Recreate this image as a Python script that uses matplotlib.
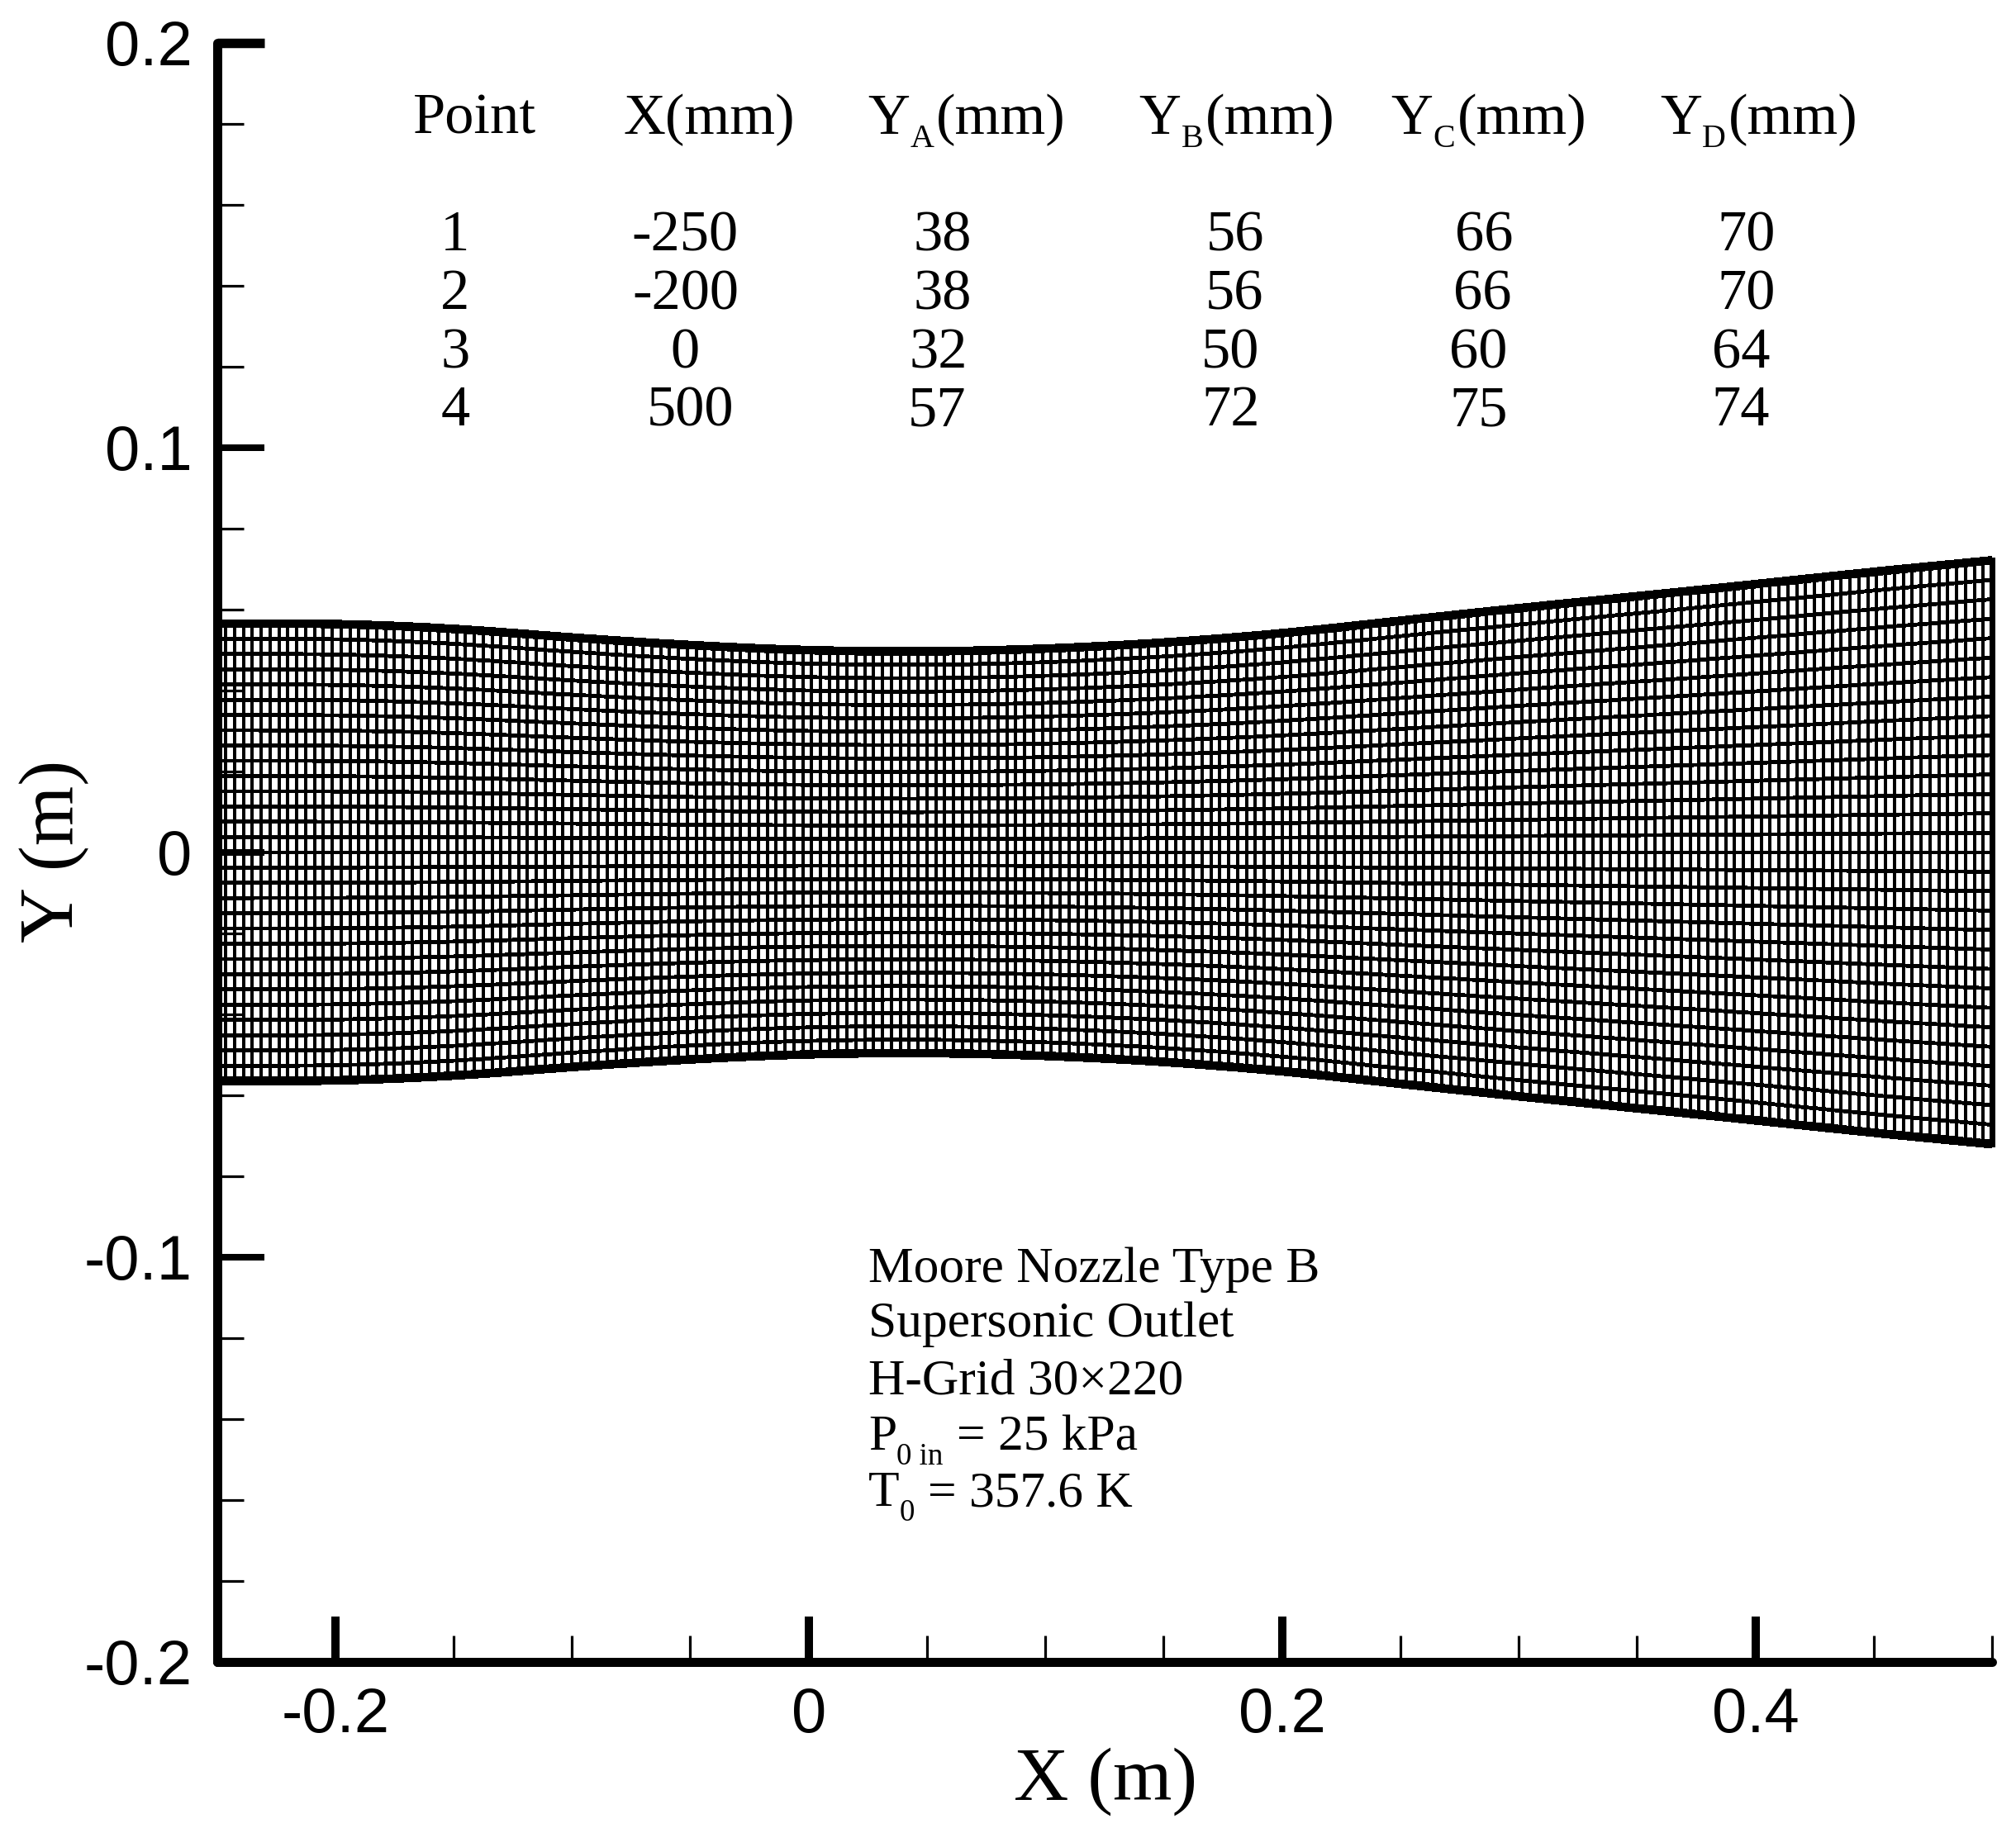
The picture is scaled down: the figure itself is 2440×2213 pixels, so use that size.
import numpy as np
import matplotlib
matplotlib.use("Agg")
import matplotlib.pyplot as plt
from matplotlib.transforms import IdentityTransform
from matplotlib.ticker import FixedLocator

W, H = 2440, 2213
S = 2440 / 1568

# wall contour (m)
wall_x = [-0.25, -0.2, -0.15, -0.1, -0.05, 0.0, 0.05, 0.1, 0.15, 0.2, 0.25, 0.3, 0.35, 0.4, 0.45, 0.5]
wall_y = [0.0565, 0.0565, 0.0553, 0.0530, 0.0511, 0.0498, 0.0495, 0.0502, 0.0517, 0.0540,
          0.0572, 0.0603, 0.0632, 0.0662, 0.0693, 0.0721]
n_columns = 200
n_rows = 30

x_ticks = [-0.2, 0, 0.2, 0.4]
x_labels = ["-0.2", "0", "0.2", "0.4"]
y_ticks = [-0.2, -0.1, 0, 0.1, 0.2]
y_labels = ["-0.2", "-0.1", "0", "0.1", "0.2"]
x_minor = [-0.25, -0.15, -0.1, -0.05, 0.05, 0.1, 0.15, 0.25, 0.3, 0.35, 0.45, 0.5]
y_minor = [-0.18, -0.16, -0.14, -0.12, -0.08, -0.06, -0.04, -0.02,
           0.02, 0.04, 0.06, 0.08, 0.12, 0.14, 0.16, 0.18]

col_point = ["1", "2", "3", "4"]
col_x = ["-250", "-200", "0", "500"]
col_a = ["38", "38", "32", "57"]
col_b = ["56", "56", "50", "72"]
col_c = ["66", "66", "60", "75"]
col_d = ["70", "70", "64", "74"]

pt = 72 / 100  # points per pixel at dpi 100
SERIF = "Liberation Serif"
SANS = "Liberation Sans"

fig = plt.figure(figsize=(W / 100, H / 100), dpi=100, facecolor="white")
L, R, T, B = 262.5, 2411, 51.5, 2012
ax = fig.add_axes([L / W, 1 - B / H, (R - L) / W, (B - T) / H])
ax.set_xlim(-0.25, 0.5)
ax.set_ylim(-0.2, 0.2)

# mesh: columns are evenly spaced; the wall is eased between the read values
grid_x = np.linspace(-0.25, 0.5, n_columns + 1)
raw_wall = np.interp(grid_x, wall_x, wall_y)
win = 13
pad = np.concatenate([2 * raw_wall[0] - raw_wall[win:0:-1], raw_wall, 2 * raw_wall[-1] - raw_wall[-2:-win - 2:-1]])
grid_wall = np.convolve(pad, np.ones(win) / win, mode="same")[win:-win]
for xi, yi in zip(grid_x, grid_wall):
    ax.plot([xi, xi], [-yi, yi], color="k", lw=4 * pt, solid_capstyle="butt", clip_on=False, antialiased=False)
for eta in np.linspace(-1, 1, n_rows + 1):
    lw = 9.5 * pt if abs(eta) == 1 else 3.8 * pt
    ax.plot(grid_x, eta * grid_wall, color="k", lw=lw, solid_capstyle="butt", clip_on=False, antialiased=False)
ax.plot([0.5, 0.5], [-grid_wall[-1], grid_wall[-1]], color="k", lw=7 * pt, solid_capstyle="projecting",
        clip_on=False, antialiased=False)

# axes
for s in ["top", "right"]:
    ax.spines[s].set_visible(False)
for s in ["left", "bottom"]:
    ax.spines[s].set_linewidth(11 * pt)
    ax.spines[s].set_capstyle("round")
    ax.spines[s].set_zorder(5)
ax.set_xticks(x_ticks, x_labels)
ax.set_yticks(y_ticks, y_labels)
ax.xaxis.set_minor_locator(FixedLocator(x_minor))
ax.yaxis.set_minor_locator(FixedLocator(y_minor))
ax.tick_params(which="major", axis="x", direction="in", length=55 * pt, width=10 * pt, pad=30 * pt)
ax.tick_params(which="major", axis="y", direction="in", length=56.5 * pt, width=8 * pt, pad=30 * pt)
ax.tick_params(which="minor", direction="in", length=32 * pt, width=3.2 * pt)
for lab in ax.get_xticklabels() + ax.get_yticklabels():
    lab.set_fontfamily(SANS)
    lab.set_fontsize(76 * pt)
ax.yaxis.get_major_ticks()[-1].tick1line.set_markeredgewidth(11.5 * pt)

renderer = fig.canvas.get_renderer()


def chain(x, y, pieces):
    """Write consecutive text pieces on one baseline: (string, px size, drop, gap after)."""
    for s, size, drop, gap in pieces:
        t = fig.text(x, H - y - drop, s, transform=IdentityTransform(), family=SERIF,
                     fontsize=size * pt, va="baseline", ha="left", color="k")
        x = t.get_window_extent(renderer).x1 + gap


def centred(x, y, s, size=70.5):
    fig.text(x, H - y, s, transform=IdentityTransform(), family=SERIF, fontsize=size * pt,
             va="baseline", ha="center", color="k")


# table header
HS, SUB = 70.5, 40
hy = 104 * S
chain(321 * S, hy, [("Point", HS, 0, 0)])
chain(485 * S, hy, [("X(mm)", HS, 0, 0)])
for x0, letter in zip([675, 886, 1082, 1291], "ABCD"):
    chain(x0 * S, hy, [("Y", HS, 0, 0), (letter, SUB, 16, 3), ("(mm)", HS, 0, 0)])

# table rows
row_y = [195, 240.5, 286, 331]
col_pos = [
    [354, 533, 733, 961, 1154, 1358],
    [354, 533, 733, 960, 1153, 1358],
    [354, 533, 730, 957, 1150, 1354],
    [354, 537, 729, 957, 1150, 1354],
]
columns = [col_point, col_x, col_a, col_b, col_c, col_d]
for r, ry in enumerate(row_y):
    for c, col in enumerate(columns):
        centred(col_pos[r][c] * S, ry * S, col[r])

# annotation block
AS, AB = 61.5, 37
ax0 = 1051
chain(ax0, 1552, [("Moore Nozzle Type B", AS, 0, 0)])
chain(ax0, 1618, [("Supersonic Outlet", AS, 0, 0)])
chain(ax0, 1687, [("H-Grid 30\u00d7220", AS, 0, 0)])
chain(ax0, 1755, [("P", AS, 0, 0), ("0 in", AB, 18, 16), ("= 25 kPa", AS, 0, 0)])
chain(ax0, 1823, [("T", AS, 0, 0), ("0", AB, 18, 16), ("= 357.6 K", AS, 0, 0)])

# axis titles
fig.text(860 * S / W, 1 - 1400 * S / H, "X (m)", family=SERIF, fontsize=92 * pt, ha="center", va="baseline")
fig.text(42 * S / W, 1 - 662 * S / H, "Y (m)", family=SERIF, fontsize=93 * pt, ha="center", va="center",
         rotation=90)

fig.savefig("out.png", dpi=100, facecolor="white")
